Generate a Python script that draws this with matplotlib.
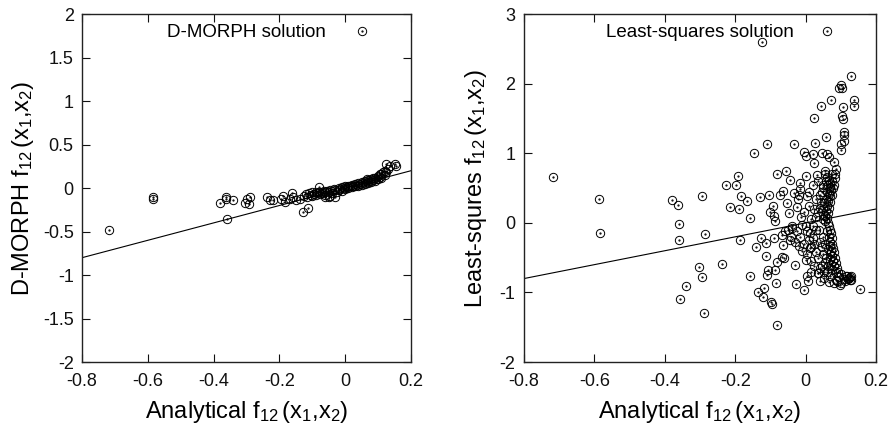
import numpy as np
import matplotlib
matplotlib.use("Agg")
import matplotlib.pyplot as plt

plt.rcParams['font.family'] = ['Liberation Sans', 'DejaVu Sans']
plt.rcParams['mathtext.fontset'] = 'custom'
plt.rcParams['mathtext.rm'] = 'Liberation Sans'
plt.rcParams['mathtext.it'] = 'Liberation Sans'
plt.rcParams['axes.unicode_minus'] = False

### data *****************************************************************
# left panel: analytical vs D-MORPH
dm_x = [-0.717, -0.585, -0.583, -0.381, -0.363, -0.361, -0.359, -0.341, -0.306, -0.299,
        -0.292, -0.288, -0.239, -0.228, -0.219, -0.194, -0.189, -0.184, -0.168, -0.163,
        -0.158, -0.148, -0.138, -0.128, -0.113, 0.052, 0.125, 0.150, 0.135, 0.155,
        -0.125, -0.12, -0.115, -0.11, -0.105, -0.10, -0.10, -0.095, -0.09, -0.09,
        -0.085, -0.08, -0.08, -0.075, -0.07, -0.07, -0.065, -0.06, -0.06, -0.055,
        -0.05, -0.05, -0.045, -0.04, -0.04, -0.035, -0.03, -0.03, -0.025, -0.02,
        -0.02, -0.015, -0.01, -0.01, -0.005, 0.0, 0.0, 0.005, 0.01, 0.01,
        0.015, 0.02, 0.02, 0.025, 0.03, 0.03, 0.035, 0.04, 0.04, 0.045,
        0.05, 0.05, 0.055, 0.06, 0.06, 0.065, 0.07, 0.07, 0.075, 0.08,
        0.08, 0.085, 0.09, 0.09, 0.095, 0.10, 0.10, 0.105, 0.11, 0.11,
        0.115, 0.12, 0.12, 0.125, 0.13, -0.045, -0.06, 0.065, 0.085, 0.105]
dm_y = [-0.48, -0.10, -0.13, -0.17, -0.10, -0.13, -0.35, -0.14, -0.17, -0.13,
        -0.18, -0.10, -0.10, -0.14, -0.14, -0.13, -0.09, -0.16, -0.12, -0.06,
        -0.10, -0.14, -0.12, -0.27, -0.23, 1.81, 0.28, 0.28, 0.25, 0.25,
        -0.09, -0.07, -0.10, -0.06, -0.08, -0.05, -0.09, -0.07, -0.04, -0.08,
        -0.06, 0.01, -0.05, -0.07, -0.04, -0.06, -0.03, -0.05, -0.08, -0.03,
        -0.04, -0.10, -0.02, -0.03, -0.06, -0.01, -0.02, -0.10, -0.04, 0.00,
        -0.02, -0.01, 0.01, -0.03, 0.00, 0.02, -0.01, 0.01, 0.03, 0.00,
        0.02, 0.04, 0.01, 0.03, 0.05, 0.02, 0.04, 0.06, 0.03, 0.05,
        0.07, 0.04, 0.06, 0.08, 0.05, 0.07, 0.09, 0.06, 0.08, 0.10,
        0.07, 0.09, 0.12, 0.08, 0.11, 0.14, 0.10, 0.13, 0.16, 0.12,
        0.18, 0.20, 0.15, 0.19, 0.22, -0.09, -0.10, 0.10, 0.12, 0.16]

# right panel: analytical vs least-squares
ls_x = [-0.717, -0.586, -0.584, -0.380, -0.363, -0.361, -0.359, -0.358, -0.339, -0.295,
        -0.285, -0.304, -0.295, -0.290, -0.238, -0.227, -0.216, -0.197, -0.192, -0.189,
        -0.183, -0.186, -0.167, -0.159, -0.159, -0.146, -0.141, -0.136, -0.129, -0.126,
        -0.124, -0.121, -0.117, -0.113, -0.112, -0.110, -0.105, -0.110, -0.107, -0.100,
        -0.099, -0.096, -0.093, -0.091, -0.089, -0.086, -0.083, -0.081, -0.080, -0.086,
        -0.081, -0.072, -0.067, -0.067, -0.064, -0.061, -0.063, -0.055, -0.053, -0.051,
        -0.048, -0.044, -0.042, -0.039, -0.032, -0.032, -0.031, -0.027, -0.025, -0.022,
        -0.020, -0.017, -0.017, -0.013, -0.010, -0.005, -0.004, 0.000, 0.000, 0.002,
        0.004, 0.006, 0.009, 0.011, 0.013, 0.016, 0.021, 0.023, 0.025, 0.026,
        0.028, 0.032, 0.034, 0.037, 0.040, 0.044, 0.045, 0.049, 0.056, 0.059,
        0.061, 0.061, 0.065, 0.072, 0.080, 0.084, 0.094, 0.099, 0.101, 0.103,
        0.101, 0.103, 0.106, 0.106, 0.108, 0.110, 0.110, 0.129, 0.137, 0.137,
        0.155, 0.118, 0.123, 0.126, 0.097, 0.081, 0.065, 0.051, 0.051,
        0.055, 0.06, 0.065, 0.07, 0.075, 0.08, 0.058, 0.062, 0.068, 0.072,
        0.078, 0.06, 0.066, 0.07, 0.075, 0.058, 0.064, 0.07, 0.052, 0.06,
        0.066, 0.05, 0.058, 0.064, 0.048, 0.055, 0.06, 0.05, 0.056, 0.044,
        0.04, 0.035, 0.03, 0.045, 0.05, 0.082, 0.085, 0.075,
        0.062, 0.066, 0.07, 0.06, 0.072, 0.065, 0.074, 0.068, 0.076, 0.07,
        0.078, 0.064, 0.073, 0.08, 0.068, 0.076, 0.082, 0.07, 0.078, 0.085,
        0.072, 0.08, 0.088, 0.076, 0.092, 0.085, 0.10, 0.095, 0.108, 0.115,
        0.12, 0.112, 0.125, 0.09, 0.06, 0.055, 0.05, 0.045, 0.04, 0.055,
        0.05, 0.058, 0.062, 0.045, 0.035, 0.03, 0.025, 0.02, 0.015, 0.01,
        0.005, 0.0, -0.005, -0.015, -0.025, 0.03, 0.02, 0.015, 0.025, 0.01,
        -0.005, -0.02, 0.005, 0.02, 0.035, 0.04, 0.015, 0.025, 0.035, 0.04,
        0.005, -0.01, -0.03, -0.04, -0.045, -0.06, 0.10, 0.13, 0.128, 0.07,
        0.085]
ls_y = [0.665, 0.34, -0.15, 0.33, 0.26, -0.01, -0.24, -1.09, -0.90, 0.39,
        -0.16, -0.64, -0.78, -1.30, -0.59, 0.55, 0.23, 0.54, 0.67, 0.20,
        0.38, -0.25, 0.31, 0.07, -0.76, 1.00, -0.35, -0.99, 0.37, -0.22,
        2.60, -1.07, -0.94, -0.29, -0.47, 1.14, 0.40, -0.75, -0.68, 0.16,
        -1.14, -1.16, 0.25, -0.22, 0.10, 0.03, -0.86, 0.70, -1.46, -0.67,
        -0.56, 0.40, -0.17, -0.49, -0.32, -0.51, 0.46, 0.75, 0.28, -0.10,
        0.14, 0.62, -0.20, -0.08, 1.13, 0.43, -0.60, -0.88, 0.23, 0.35,
        -0.33, 0.49, 0.57, 0.09, -0.03, 1.02, -0.96, 0.67, -0.53, 0.96,
        -0.76, -0.83, 0.45, -0.36, -0.15, -0.70, 0.99, 0.86, 1.51, 1.15,
        0.09, 0.69, -0.72, -0.10, -0.84, 1.68, 1.00, 0.52, 0.74, 1.23,
        0.99, 2.76, 0.95, 1.76, 0.87, 0.71, 1.94, 1.14, 1.98, 1.94,
        1.05, 1.53, 1.66, 1.50, 1.31, 1.26, 1.18, 2.11, 1.77, 1.68,
        -0.95, -0.77, -0.79, -0.82, -0.89, -0.87, -0.85, -0.79, -0.70,
        0.70, 0.66, 0.62, 0.58, 0.60, 0.55, 0.60, 0.55, 0.52, 0.48,
        0.50, 0.45, 0.42, 0.38, 0.40, 0.35, 0.32, 0.30, 0.28, 0.25,
        0.22, 0.20, 0.17, 0.14, 0.12, 0.10, 0.07, 0.05, 0.03, 0.30,
        0.22, 0.15, 0.35, 0.45, 0.55, 0.65, 0.78, 0.70,
        0.00, -0.05, -0.10, -0.12, -0.15, -0.20, -0.22, -0.27, -0.30, -0.33,
        -0.36, -0.38, -0.40, -0.42, -0.45, -0.48, -0.50, -0.53, -0.55, -0.58,
        -0.60, -0.62, -0.65, -0.67, -0.70, -0.72, -0.74, -0.78, -0.80, -0.76,
        -0.80, -0.84, -0.78, -0.84, -0.70, -0.58, -0.45, -0.35, -0.28, -0.30,
        -0.20, -0.50, -0.62, -0.62, -0.50, -0.42, -0.30, -0.22, -0.35, -0.25,
        -0.12, -0.05, -0.30, -0.20, -0.12, -0.10, -0.05, 0.05, 0.20, 0.25,
        0.15, 0.40, 0.38, 0.55, 0.60, 0.40, -0.55, -0.62, -0.72, -0.65,
        -0.45, -0.40, -0.28, -0.05, -0.25, -0.12, -0.86, -0.82, -0.76, -0.77,
        -0.82]

x_ticks = [-0.8, -0.6, -0.4, -0.2, 0, 0.2]
dm_yticks = [-2, -1.5, -1, -0.5, 0, 0.5, 1, 1.5, 2]
ls_yticks = [-2, -1, 0, 1, 2, 3]

### plotting *************************************************************
fig = plt.figure(figsize=(8.94, 4.29), dpi=100)
ax1 = fig.add_axes([0.0917, 0.156, 0.368, 0.811])
ax2 = fig.add_axes([0.586, 0.156, 0.394, 0.811])

fmt = matplotlib.ticker.FuncFormatter(lambda v, p: '%g' % round(v, 3))

def setup(ax, xs, ys, yticks, title, ylabel, ylab_x):
    ax.axline((0, 0), slope=1, color='black', lw=0.8)
    ax.plot(xs, ys, 'o', mfc='none', mec='black', ms=6, mew=0.7)
    ax.plot(xs, ys, '.', color='black', ms=1.2)
    ax.set_xlim(x_ticks[0], x_ticks[-1])
    ax.set_ylim(yticks[0], yticks[-1])
    ax.set_xticks(x_ticks)
    ax.set_yticks(yticks)
    ax.xaxis.set_major_formatter(fmt)
    ax.yaxis.set_major_formatter(fmt)
    ax.tick_params(direction='in', top=True, right=True, length=6, width=0.8,
                   labelsize=13, colors='#111111')
    ax.tick_params(axis='x', pad=8)
    ax.tick_params(axis='y', pad=6)
    for s in ax.spines.values():
        s.set_linewidth(1.0)
        s.set_color('#222222')
    ax.text(0.5, 0.948, title, transform=ax.transAxes, ha='center', va='center', fontsize=13.5)
    ax.set_xlabel('Analytical f$_{12}\\,$(x$_1$,x$_2$)', fontsize=17, labelpad=6)
    ax.set_ylabel(ylabel, fontsize=17)
    ax.yaxis.set_label_coords(ylab_x, 0.5)

setup(ax1, dm_x, dm_y, dm_yticks, 'D-MORPH solution',
      'D-MORPH f$_{12}\\,$(x$_1$,x$_2$)', -0.14)
setup(ax2, ls_x, ls_y, ls_yticks, 'Least-squares solution',
      'Least-squres f$_{12}\\,$(x$_1$,x$_2$)', -0.10)

plt.savefig('out.png', dpi=100)
